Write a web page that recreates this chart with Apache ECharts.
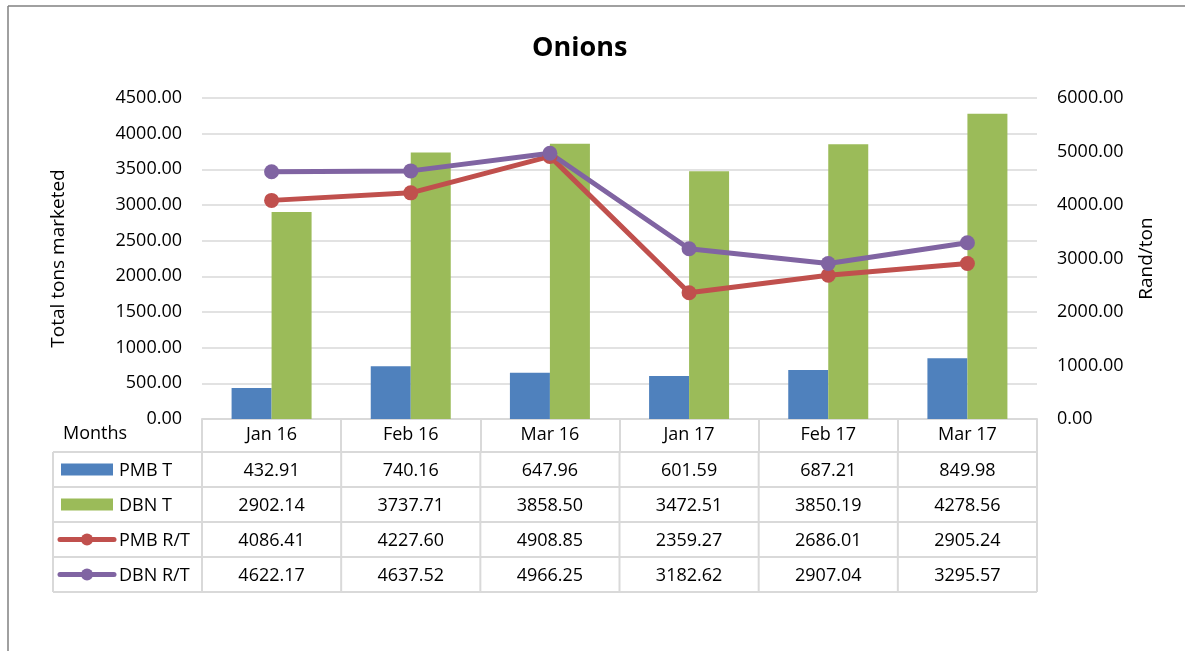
<!DOCTYPE html>
<html>
<head>
<meta charset="utf-8">
<title>Onions</title>
<script src="https://cdn.jsdelivr.net/npm/echarts@6/dist/echarts.min.js"></script>
<style>
  html, body { margin: 0; padding: 0; background: #fff; }
  #chart { width: 1185px; height: 651px; }
</style>
</head>
<body>
<div id="chart"></div>
<script>
// data
const months = ['Jan 16', 'Feb 16', 'Mar 16', 'Jan 17', 'Feb 17', 'Mar 17'];
const pmbTons = [432.91, 740.16, 647.96, 601.59, 687.21, 849.98];
const dbnTons = [2902.14, 3737.71, 3858.50, 3472.51, 3850.19, 4278.56];
const pmbRand = [4086.41, 4227.60, 4908.85, 2359.27, 2686.01, 2905.24];
const dbnRand = [4622.17, 4637.52, 4966.25, 3182.62, 2907.04, 3295.57];

const FONT = 'Open Sans';
const GRID = { left: 202, right: 148, top: 98, bottom: 232 };
const LINE_GREY = '#d9d9d9';

const rows = [
  { name: 'PMB T', kind: 'bar', color: '#4F81BD', values: pmbTons },
  { name: 'DBN T', kind: 'bar', color: '#9BBB59', values: dbnTons },
  { name: 'PMB R/T', kind: 'line', color: '#C0504D', values: pmbRand },
  { name: 'DBN R/T', kind: 'line', color: '#8064A2', values: dbnRand },
];

// data table under the plot, drawn with graphic elements
function buildTable() {
  const W = 1185, H = 651;
  const x0 = 53, x1 = GRID.left, x2 = W - GRID.right;
  const colW = (x2 - x1) / months.length;
  const top = H - GRID.bottom + 33, rowH = 35;
  const stroke = { stroke: LINE_GREY, lineWidth: 2 };
  const font = `18px "${FONT}"`;
  const els = [];
  // outer frame (top and left edges only, as in the source)
  els.push({ type: 'line', shape: { x1: 8, y1: 6, x2: W, y2: 6 }, style: { stroke: '#808080', lineWidth: 1.5 } });
  els.push({ type: 'line', shape: { x1: 8, y1: 6, x2: 8, y2: H }, style: { stroke: '#808080', lineWidth: 1.5 } });
  for (let r = 0; r <= rows.length; r++) {
    const y = top + r * rowH;
    els.push({ type: 'line', shape: { x1: x0, y1: y, x2: x2, y2: y }, style: stroke });
  }
  const vx = [x0, x1];
  for (let c = 1; c <= months.length; c++) vx.push(x1 + c * colW);
  vx.forEach((x) => {
    els.push({ type: 'line', shape: { x1: x, y1: top, x2: x, y2: top + rows.length * rowH }, style: stroke });
  });
  els.push({
    type: 'text', x: 63, y: H - GRID.bottom + 15,
    style: { text: 'Months', font: font, fill: '#000', verticalAlign: 'middle' },
  });
  rows.forEach((row, r) => {
    const cy = top + r * rowH + rowH / 2;
    if (row.kind === 'bar') {
      els.push({ type: 'rect', shape: { x: 61, y: cy - 6, width: 52, height: 12 }, style: { fill: row.color } });
    } else {
      els.push({ type: 'line', shape: { x1: 60, y1: cy, x2: 114, y2: cy }, style: { stroke: row.color, lineWidth: 5, lineCap: 'round' } });
      els.push({ type: 'circle', shape: { cx: 87, cy: cy, r: 6 }, style: { fill: row.color } });
    }
    els.push({
      type: 'text', x: 119, y: cy + 1,
      style: { text: row.name, font: font, fill: '#000', verticalAlign: 'middle' },
    });
    row.values.forEach((v, c) => {
      els.push({
        type: 'text', x: x1 + (c + 0.5) * colW, y: cy + 1,
        style: { text: v.toFixed(2), font: font, fill: '#000', align: 'center', verticalAlign: 'middle' },
      });
    });
  });
  return els;
}

const chart = echarts.init(document.getElementById('chart'), null, { renderer: 'canvas' });
const fmt2 = (v) => v.toFixed(2);

chart.setOption({
  backgroundColor: '#fff',
  animation: false,
  title: {
    text: 'Onions', left: 527, top: 30,
    textStyle: { fontFamily: FONT, fontSize: 27, fontWeight: 'bold', color: '#000' },
  },
  legend: { show: false },
  grid: GRID,
  xAxis: {
    type: 'category',
    data: months,
    boundaryGap: true,
    axisLine: { lineStyle: { color: LINE_GREY, width: 2 } },
    axisTick: { show: true, inside: false, length: 33, lineStyle: { color: LINE_GREY, width: 2 } },
    axisLabel: { margin: 7, color: '#000', fontFamily: FONT, fontSize: 18 },
  },
  yAxis: [
    {
      type: 'value', min: 0, max: 4500, interval: 500,
      name: 'Total tons marketed', nameLocation: 'middle', nameGap: 134,
      nameTextStyle: { fontFamily: FONT, fontSize: 19, color: '#000' },
      axisLine: { show: false }, axisTick: { show: false },
      axisLabel: { margin: 20, color: '#000', fontFamily: FONT, fontSize: 18, formatter: fmt2 },
      splitLine: { lineStyle: { color: LINE_GREY, width: 1.5 } },
    },
    {
      type: 'value', min: 0, max: 6000, interval: 1000,
      name: 'Rand/ton', nameLocation: 'middle', nameGap: 100,
      nameTextStyle: { fontFamily: FONT, fontSize: 19, color: '#000' },
      axisLine: { show: false }, axisTick: { show: false },
      axisLabel: { margin: 20, color: '#000', fontFamily: FONT, fontSize: 18, formatter: fmt2 },
      splitLine: { show: false },
    },
  ],
  series: rows.map((row) => row.kind === 'bar'
    ? {
        name: row.name, type: 'bar', yAxisIndex: 0, data: row.values,
        barWidth: 40, barGap: '0%',
        itemStyle: { color: row.color },
      }
    : {
        name: row.name, type: 'line', yAxisIndex: 1, data: row.values,
        symbol: 'circle', symbolSize: 15,
        lineStyle: { color: row.color, width: 5 },
        itemStyle: { color: row.color },
      }),
  graphic: buildTable(),
});
window.addEventListener('resize', () => chart.resize());
</script>
</body>
</html>
